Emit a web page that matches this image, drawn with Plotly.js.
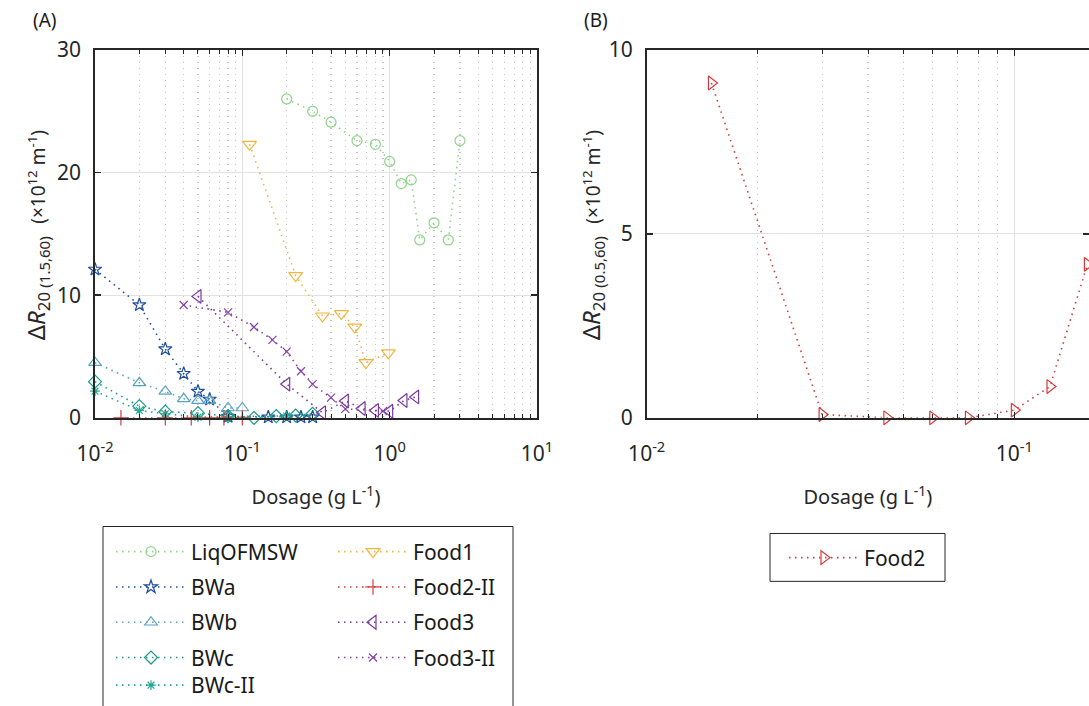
<!DOCTYPE html>
<html><head><meta charset="utf-8">
<script src="https://cdn.plot.ly/plotly-3.0.1.min.js"></script>
<style>html,body{margin:0;padding:0;background:#fff}#plot{width:1089px;height:706px}</style>
</head><body><div id="plot"></div>
<script>
// ---- data ----
const liqX = [0.2,0.3,0.4,0.6,0.8,1.0,1.2,1.4,1.6,2.0,2.5,3.0];
const liqY = [26.0,25.0,24.1,22.6,22.3,20.9,19.1,19.4,14.5,15.9,14.5,22.6];
const food1X = [0.112,0.23,0.35,0.47,0.58,0.69,0.98];
const food1Y = [22.3,11.6,8.3,8.5,7.4,4.5,5.3];
const bwaX = [0.01,0.02,0.03,0.04,0.05,0.06,0.08,0.15,0.2,0.25,0.3];
const bwaY = [12.1,9.2,5.6,3.6,2.15,1.5,0.1,0.05,0.05,0.05,0.05];
const food2iiX = [0.015,0.03,0.045,0.06,0.075,0.1];
const food2iiY = [0,0,0,0,0,0];
const bwbX = [0.01,0.02,0.03,0.04,0.05,0.06,0.08,0.1];
const bwbY = [4.5,2.85,2.15,1.55,1.4,1.4,0.8,0.8];
const food3X = [0.05,0.2,0.35,0.5,0.65,0.8,1.0,1.25,1.5];
const food3Y = [9.9,2.75,0.42,1.37,0.76,0.6,0.54,1.41,1.7];
const bwcX = [0.01,0.02,0.03,0.05,0.08,0.12,0.17,0.23,0.3];
const bwcY = [2.95,0.95,0.5,0.38,0.14,0.0,0.14,0.19,0.33];
const food3iiX = [0.04,0.08,0.12,0.16,0.2,0.25,0.3,0.4,0.5,0.9];
const food3iiY = [9.2,8.6,7.4,6.35,5.4,3.8,2.75,1.65,0.73,0.55];
const bwc2X = [0.01,0.02,0.03,0.05,0.08,0.2];
const bwc2Y = [2.17,0.6,0.33,0.05,0.1,0.15];
const food2X = [0.015,0.03,0.045,0.06,0.075,0.1,0.125,0.158];
const food2Y = [9.1,0.09,0,0,0,0.21,0.85,4.17];

const xTickValsA = [0.01,0.1,1,10];
const xTickTextA = ['10<sup>-2</sup>','10<sup>-1</sup>','10<sup>0</sup>','10<sup>1</sup>'];
const xTickValsB = [0.01,0.1];
const xTickTextB = ['10<sup>-2</sup>','10<sup>-1</sup>'];

// ---- styling ----
const FONT = 'Noto Sans, Open Sans, sans-serif';
const DASH = '1.5px,4.5px';
function tr(name, x, y, color, symbol, size, xa, ya, legend){
  return {type:'scatter', mode:'lines+markers', name:name, x:x, y:y,
    xaxis:xa, yaxis:ya, legend:legend, legendgroup:name,
    line:{color:color, width:1.6, dash:DASH},
    marker:{symbol:symbol, size:size, color:color, line:{color:color, width:1.2}},
    cliponaxis:false};
}
const cLiq='#8fd48a', cF1='#f2b43a', cBWa='#1f4e9e', cBWb='#5aa2bf', cBWc='#1b9a8a', cBWc2='#20a892', cF2='#d83a3a', cF3='#7b3a9e', cF3ii='#8442a6';
const traces = [
  tr('LiqOFMSW', liqX, liqY, cLiq, 'circle-open', 10, 'x','y','legend'),
  tr('BWa', bwaX, bwaY, cBWa, 'star-open', 10, 'x','y','legend'),
  tr('BWb', bwbX, bwbY, cBWb, 'triangle-up-open', 11, 'x','y','legend'),
  tr('BWc', bwcX, bwcY, cBWc, 'diamond-open', 10, 'x','y','legend'),
  tr('BWc-II', bwc2X, bwc2Y, cBWc2, 'asterisk-open', 8, 'x','y','legend4'),
  tr('Food1', food1X, food1Y, cF1, 'triangle-down-open', 12, 'x','y','legend2'),
  tr('Food2-II', food2iiX, food2iiY, cF2, 'cross-thin-open', 11, 'x','y','legend2'),
  tr('Food3', food3X, food3Y, cF3, 'triangle-left-open', 12, 'x','y','legend2'),
  tr('Food3-II', food3iiX, food3iiY, cF3ii, 'x-thin-open', 8, 'x','y','legend2'),
  tr('Food2', food2X, food2Y, cF2, 'triangle-right-open', 12, 'x2','y2','legend3')
];

function minorVals(lo, hi){ const v=[]; for(let e=lo;e<hi;e++){for(let k=2;k<=9;k++) v.push(k*Math.pow(10,e));} return v; }

function xaxis(domain, range, tv, tt, anchor){
  return {type:'log', domain:domain, range:range, anchor:anchor,
    tickmode:'array', tickvals:tv, ticktext:tt, ticks:'inside', ticklen:6, tickwidth:1.5, tickcolor:'#262626',
    showline:true, linecolor:'#262626', linewidth:1.8, mirror:'ticks',
    showgrid:true, gridcolor:'#e2e2e2', gridwidth:1.2, zeroline:false,
    tickfont:{family:FONT, size:21, color:'#262626'}, ticklabelstandoff:16,
    minor:{tickmode:'array', tickvals:minorVals(-2,1), ticks:'inside', ticklen:4, tickcolor:'#262626', tickwidth:1,
      showgrid:true, gridcolor:'#c4c4c4', griddash:'1px,5px', gridwidth:1.2},
    title:{text:'Dosage (g L<sup>-1</sup>)', font:{family:FONT, size:20, color:'#262626'}, standoff:24}};
}
function yaxis(domain, range, dtick, anchor){
  return {domain:domain, range:range, anchor:anchor, dtick:dtick, tick0:0,
    ticks:'inside', ticklen:6, tickwidth:1.5, tickcolor:'#262626',
    showline:true, linecolor:'#262626', linewidth:1.8, mirror:'ticks',
    showgrid:true, gridcolor:'#e2e2e2', gridwidth:1.2, zeroline:false,
    tickfont:{family:FONT, size:21, color:'#262626'}, ticklabelstandoff:8};
}
const W=1089, H=706;
const yDom = [1-419/H, 1-50/H];
const ytitleA = 'Δ<i>R</i><sub>20 <span style="font-size:15px">(1.5,60)</span></sub>  <span style="font-size:19px">(×10<sup>12</sup> m<sup>-1</sup>)</span>';
const ytitleB = 'Δ<i>R</i><sub>20 <span style="font-size:15px">(0.5,60)</span></sub>  <span style="font-size:19px">(×10<sup>12</sup> m<sup>-1</sup>)</span>';

const legBase = {font:{family:FONT, size:21, color:'#1a1a1a'}, bgcolor:'rgba(0,0,0,0)', borderwidth:0,
  xanchor:'left', yanchor:'top', tracegroupgap:5, itemwidth:70, itemclick:false};
const layout = {
  width:W, height:H, margin:{l:0,r:0,t:0,b:0}, paper_bgcolor:'#fff', plot_bgcolor:'#fff',
  font:{family:FONT, color:'#262626'},
  xaxis: xaxis([95/W, 537/W], [-2,1], xTickValsA, xTickTextA, 'y'),
  yaxis: yaxis(yDom, [0,30], 10, 'x'),
  xaxis2: xaxis([646.7/W, 1], [-2,-0.797], xTickValsB, xTickTextB, 'y2'),
  yaxis2: yaxis(yDom, [0,10], 5, 'x2'),
  legend: Object.assign({}, legBase, {x:111/W, y:1-533/H}),
  legend4: Object.assign({}, legBase, {x:111/W, y:1-667/H}),
  legend2: Object.assign({}, legBase, {x:333/W, y:1-533/H}),
  legend3: Object.assign({}, legBase, {x:784/W, y:1-539/H}),
  shapes:[
    {type:'rect', xref:'paper', yref:'paper', x0:103/W, x1:513/W, y0:-0.05, y1:1-528/H, line:{color:'#262626', width:1}},
    {type:'rect', xref:'paper', yref:'paper', x0:770/W, x1:945/W, y0:1-583/H, y1:1-535/H, line:{color:'#262626', width:1}}
  ],
  annotations:[
    {text:'(A)', xref:'paper', yref:'paper', x:45/W, y:1-20/H, xanchor:'center', yanchor:'middle', showarrow:false, font:{family:FONT,size:19,color:'#1a1a1a'}},
    {text:'(B)', xref:'paper', yref:'paper', x:596/W, y:1-20/H, xanchor:'center', yanchor:'middle', showarrow:false, font:{family:FONT,size:19,color:'#1a1a1a'}},
    {text:ytitleA, xref:'paper', yref:'paper', x:37/W, y:1-236/H, xanchor:'center', yanchor:'middle', textangle:-90, showarrow:false, font:{family:FONT,size:24,color:'#262626'}},
    {text:ytitleB, xref:'paper', yref:'paper', x:592/W, y:1-236/H, xanchor:'center', yanchor:'middle', textangle:-90, showarrow:false, font:{family:FONT,size:24,color:'#262626'}}
  ],
  showlegend:true
};
Plotly.newPlot('plot', traces, layout, {staticPlot:true, displayModeBar:false});
</script></body></html>
